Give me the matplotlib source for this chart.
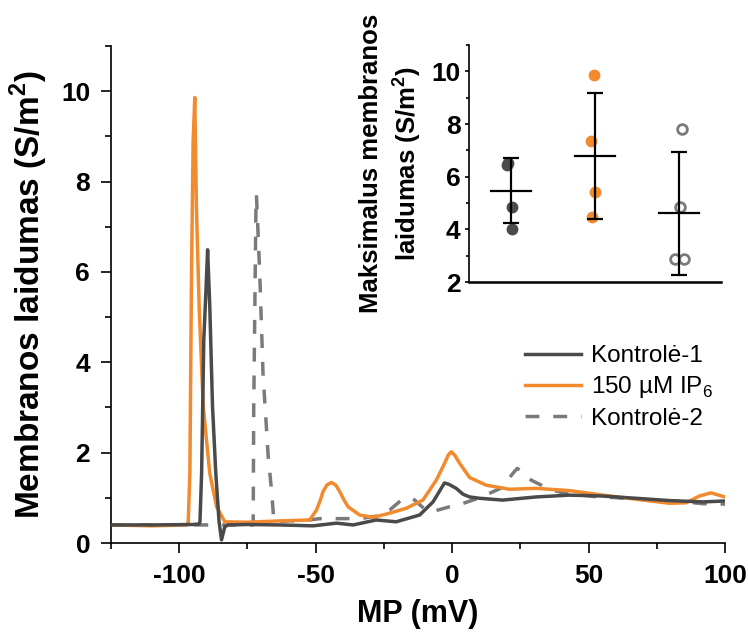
import numpy as np
import matplotlib
matplotlib.use('Agg')
import matplotlib.pyplot as plt
from matplotlib.ticker import MultipleLocator

plt.rcParams['font.family'] = ['Liberation Sans', 'DejaVu Sans']
plt.rcParams['mathtext.fontset'] = 'custom'
plt.rcParams['mathtext.rm'] = 'Liberation Sans'
plt.rcParams['mathtext.bf'] = 'Liberation Sans:bold'
plt.rcParams['axes.unicode_minus'] = False

# Kontrolė-1 trace (MP in mV, conductance in S/m^2)
k1_x = [-125, -110, -95, -92.8, -92.4, -91.8, -91.0, -90.2, -89.6, -88.8, -87.8, -86.6,
        -85.4, -84.5, -83.3, -82.1, -75, -63, -51, -42.4, -36.3, -27.8, -20.5, -11.9,
        -7.0, -4.5, -2.8, -1.2, 1.5, 4.0, 6.4, 10.1, 18.5, 30.8, 43.0, 55.2, 67.4, 79.6,
        91.8, 100]
k1_y = [0.40, 0.40, 0.41, 0.42, 0.47, 1.54, 4.5, 5.6, 6.49, 5.23, 3.02, 1.54,
        0.47, 0.07, 0.36, 0.40, 0.41, 0.40, 0.38, 0.44, 0.40, 0.51, 0.47, 0.62,
        0.91, 1.16, 1.33, 1.30, 1.21, 1.08, 1.02, 0.99, 0.95, 1.02, 1.06, 1.04, 0.99, 0.94,
        0.91, 0.93]

# 150 uM IP6 trace
ip_x = [-125, -110, -97.2, -96.7, -96.1, -95.5, -94.9, -94.3, -93.7, -92.7, -91.2, -88.8,
        -86.3, -83.3, -75, -63.1, -52.2, -49.7, -48.3, -47.3, -45.8, -44.2, -42.6, -41.2,
        -39.6, -38.1, -33.9, -29.0, -24.1, -16.8, -10.7, -5.8, -2.8, -1.4, -0.3, 1.0, 2.8,
        6.4, 12.5, 21.0, 30.8, 43.0, 55.2, 67.4, 79.6, 85.7, 90.6, 94.8, 100]
ip_y = [0.40, 0.38, 0.40, 0.47, 1.54, 5.97, 8.9, 9.86, 7.44, 5.23, 3.02, 1.54,
        0.80, 0.47, 0.46, 0.49, 0.51, 0.73, 0.95, 1.14, 1.29, 1.34, 1.28, 1.14,
        0.95, 0.80, 0.62, 0.57, 0.64, 0.77, 0.95, 1.39, 1.76, 1.95, 2.02, 1.94, 1.76,
        1.45, 1.28, 1.19, 1.21, 1.16, 1.06, 0.97, 0.88, 0.89, 1.04, 1.11, 1.02]

# Kontrolė-2 trace
k2_x = [-125, -100, -73.2, -72.9, -72.7, -72.3, -71.9, -71.7, -70.5, -69.3, -67.4, -66.2,
        -65.3, -60, -55, -48.5, -43.6, -38.7, -33.9, -27.1, -22.9, -18.0, -14.3, -9.5,
        -5.8, -1.1, 3.2, 10, 19.2, 21.7, 23.8, 25.9, 29.0, 35.1, 38.7, 44.2, 47.9, 54.6,
        58.9, 62.5, 66.2, 72.3, 75.9, 82.0, 85.7, 91.8, 96.7, 100]
k2_y = [0.40, 0.40, 0.40, 0.40, 3.0, 5.2, 7.4, 7.7, 5.97, 3.76, 1.92, 1.18,
        0.47, 0.49, 0.49, 0.54, 0.54, 0.54, 0.54, 0.60, 0.73, 0.98, 0.98, 0.72,
        0.72, 0.80, 0.86, 1.0, 1.25, 1.5, 1.65, 1.58, 1.39, 1.21, 1.14, 1.06, 1.06, 1.01,
        1.01, 0.99, 0.99, 0.95, 0.95, 0.91, 0.91, 0.87, 0.87, 0.86]

# inset: maximum conductance per cell
max_k1 = [6.52, 6.45, 4.85, 4.02]
max_ip = [9.87, 7.37, 5.41, 4.48]
max_k2 = [7.81, 4.84, 2.89, 2.89]
jitter = [[-0.03, -0.05, 0.01, 0.01],
          [-0.01, -0.05, 0.0, -0.03],
          [0.04, 0.01, -0.045, 0.06]]

c_k1 = '#4a4a4a'
c_ip = '#f28a2e'
c_k2 = '#7a7a7a'

fig = plt.figure(figsize=(7.48, 6.34), dpi=100)
ax = fig.add_axes([0.1484, 0.1435, 0.8209, 0.7839])

ax.plot(k1_x, k1_y, color=c_k1, lw=2.5, label='Kontrolė-1', zorder=3)
ax.plot(ip_x, ip_y, color=c_ip, lw=2.5, label='150 µM IP$_\\mathrm{6}$', zorder=2)
ax.plot(k2_x, k2_y, color=c_k2, lw=2.5, ls=(0, (4, 4)), label='Kontrolė-2', zorder=1)

ax.set_xlim(-125, 100)
ax.set_ylim(0, 11)
ax.xaxis.set_major_locator(MultipleLocator(50))
ax.xaxis.set_minor_locator(MultipleLocator(25))
ax.yaxis.set_major_locator(MultipleLocator(2))
ax.yaxis.set_minor_locator(MultipleLocator(1))
for s in ['top', 'right']:
    ax.spines[s].set_visible(False)
for s in ['left', 'bottom']:
    ax.spines[s].set_linewidth(1.2)
ax.tick_params(which='major', length=7, width=1.2, labelsize=19, pad=8)
ax.tick_params(which='minor', length=4, width=1.2)
for lab in ax.get_xticklabels() + ax.get_yticklabels():
    lab.set_fontweight('bold')
ax.set_xlabel('MP (mV)', fontsize=22, fontweight='bold', labelpad=8)
ax.set_ylabel('Membranos laidumas (S/m$^\\mathbf{2}$)', fontsize=24, fontweight='bold', labelpad=8)

leg = ax.legend(loc='upper left', bbox_to_anchor=(525 / 748, 1 - 345 / 634),
                bbox_transform=fig.transFigure, frameon=False, fontsize=17.5,
                handlelength=2.3, handletextpad=0.4, labelspacing=0.3,
                borderpad=0, borderaxespad=0)

# inset
ins = fig.add_axes([0.627, 0.5552, 0.3369, 0.3738])
cols = [c_k1, c_ip, c_k2]
for i, vals in enumerate([max_k1, max_ip, max_k2]):
    xs = np.full(len(vals), float(i)) + np.array(jitter[i])
    if i < 2:
        ins.plot(xs, vals, 'o', ms=7.5, color=cols[i], mec=cols[i], zorder=2)
    else:
        ins.plot(xs, vals, 'o', ms=7, mfc='white', mec=cols[i], mew=2, zorder=2)
    m = np.mean(vals)
    sd = np.std(vals, ddof=1)
    ins.errorbar(i, m, yerr=sd, color='black', lw=1.6, capsize=6, capthick=1.6, zorder=3)
    ins.plot([i - 0.24, i + 0.24], [m, m], color='black', lw=1.6, zorder=3)

ins.set_xlim(-0.5, 2.5)
ins.set_ylim(2, 11)
ins.set_xticks([])
ins.yaxis.set_major_locator(MultipleLocator(2))
ins.yaxis.set_minor_locator(MultipleLocator(1))
for s in ['top', 'right']:
    ins.spines[s].set_visible(False)
ins.spines['left'].set_linewidth(1.2)
ins.spines['bottom'].set_linewidth(1.8)
ins.tick_params(which='major', length=3, width=1.2, labelsize=19, pad=3)
ins.tick_params(which='minor', length=2, width=1.2)
for lab in ins.get_yticklabels():
    lab.set_fontweight('bold')
ins.set_ylabel('Maksimalus membranos\nlaidumas (S/m$^\\mathbf{2}$)', fontsize=18.5,
               fontweight='bold', labelpad=6, linespacing=1.3)

fig.savefig('out.png', dpi=100)
